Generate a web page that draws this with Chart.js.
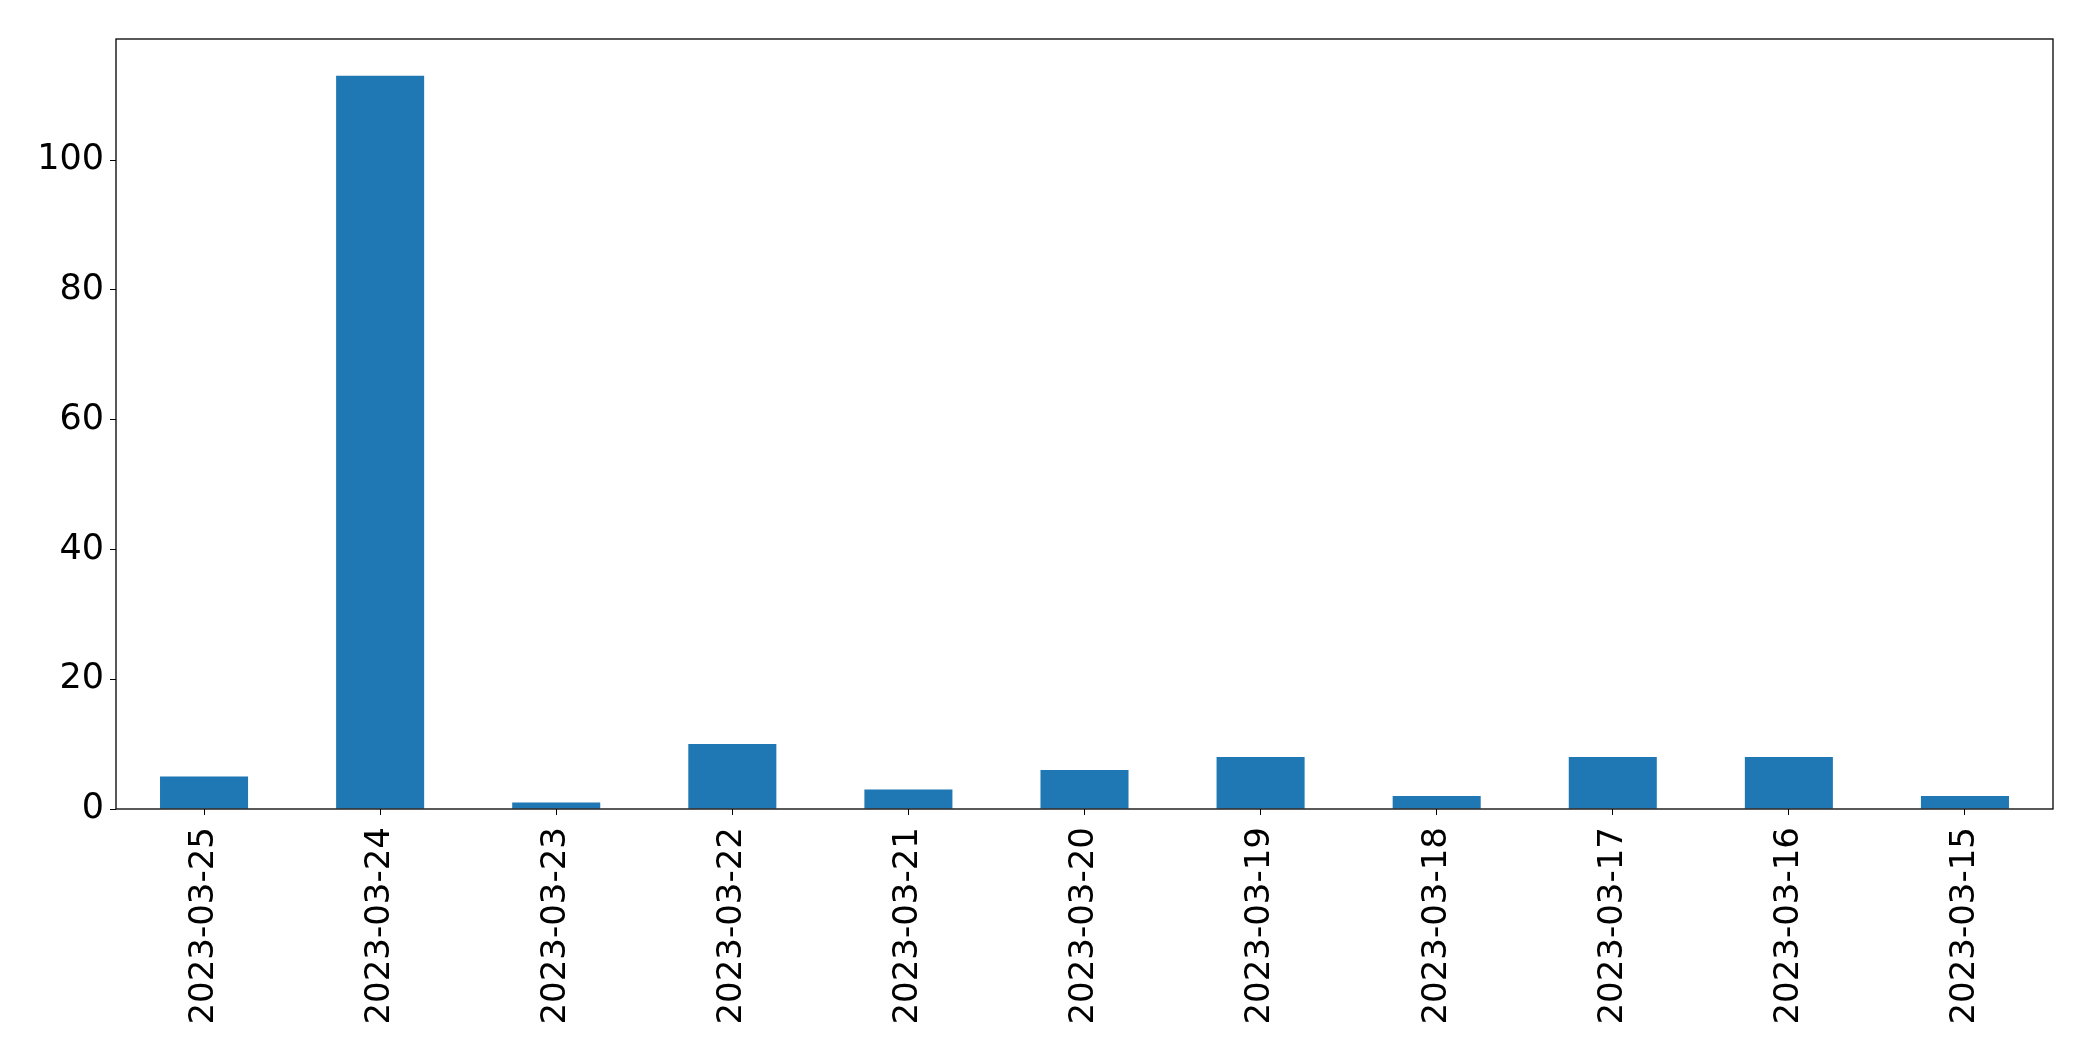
<!DOCTYPE html>
<html>
<head>
<meta charset="utf-8">
<script src="https://cdn.jsdelivr.net/npm/chart.js@4"></script>
<style>
  html, body { margin: 0; padding: 0; background: #fff; }
  #wrap { width: 2093px; height: 1061px; }
</style>
</head>
<body>
<div id="wrap"><canvas id="myChart" width="2093" height="1061"></canvas></div>
<script>
// datos
const fechas = [
  "2023-03-25", "2023-03-24", "2023-03-23", "2023-03-22", "2023-03-21", "2023-03-20",
  "2023-03-19", "2023-03-18", "2023-03-17", "2023-03-16", "2023-03-15"
];
const conteos = [5, 113, 1, 10, 3, 6, 8, 2, 8, 8, 2];
const ticksY = [0, 20, 40, 60, 80, 100];

const colore = "#1f77b4";
const fuente = "'DejaVu Sans', sans-serif";

// marco completo (como los ejes de matplotlib)
const marco = {
  id: "marco",
  afterDraw(chart) {
    const { ctx, chartArea: a } = chart;
    ctx.save();
    ctx.strokeStyle = "#000";
    ctx.lineWidth = 1.3;
    ctx.strokeRect(a.left, a.top, a.right - a.left, a.bottom - a.top);
    ctx.restore();
  },
};

const ctx = document.getElementById("myChart").getContext("2d");

new Chart(ctx, {
  type: "bar",
  data: {
    labels: fechas,
    datasets: [
      {
        data: conteos,
        backgroundColor: colore,
        borderWidth: 0,
        barPercentage: 0.5,
        categoryPercentage: 1.0,
      },
    ],
  },
  options: {
    responsive: false,
    animation: false,
    layout: { padding: { top: 39, right: 40, left: 0, bottom: 0 } },
    plugins: {
      legend: { display: false },
      tooltip: { enabled: false },
    },
    scales: {
      x: {
        offset: true,
        grid: {
          drawOnChartArea: false,
          drawTicks: true,
          tickLength: 6,
          color: "#000",
          offset: false,
        },
        border: { display: false },
        ticks: {
          minRotation: 90,
          maxRotation: 90,
          autoSkip: false,
          padding: 12,
          color: "#000",
          font: { family: fuente, size: 34 },
        },
        afterFit(scale) {
          scale.height = 252;
        },
      },
      y: {
        min: 0,
        max: Math.max(...conteos) * 1.05,
        grid: {
          drawOnChartArea: false,
          drawTicks: true,
          tickLength: 6,
          color: "#000",
        },
        border: { display: false },
        afterBuildTicks(scale) {
          scale.ticks = ticksY.map((v) => ({ value: v }));
        },
        ticks: {
          padding: 6,
          color: "#000",
          font: { family: fuente, size: 35 },
        },
        afterFit(scale) {
          scale.width = 116;
        },
      },
    },
  },
  plugins: [marco],
});
</script>
</body>
</html>
